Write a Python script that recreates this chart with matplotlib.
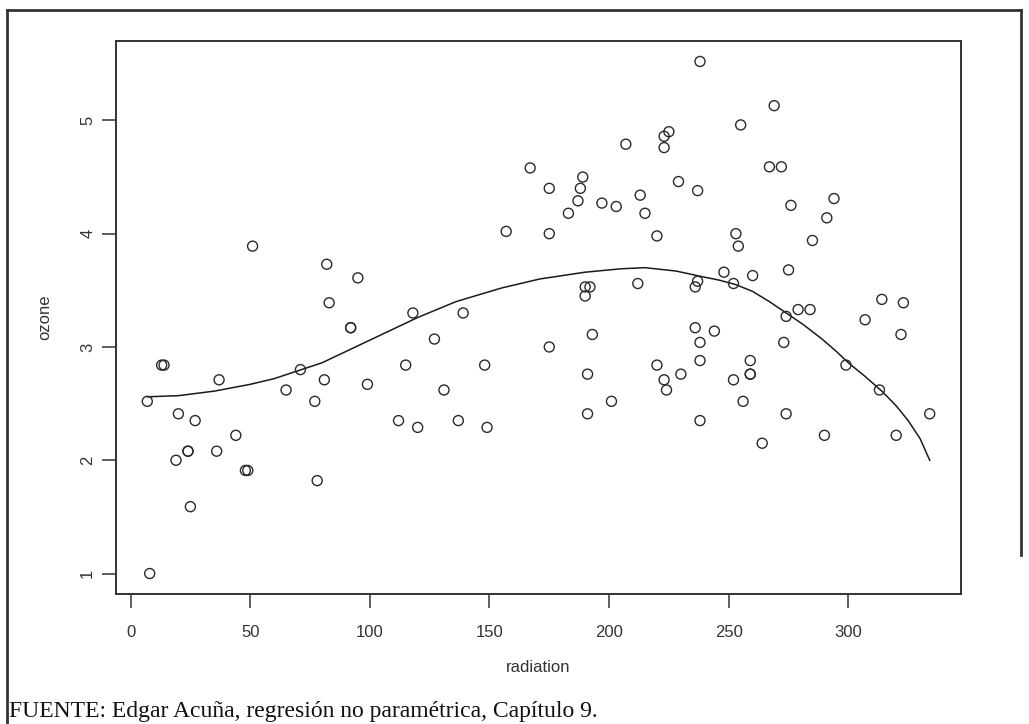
import matplotlib
matplotlib.use('Agg')
import matplotlib.pyplot as plt
from matplotlib.lines import Line2D

# radiation (langleys) and ozone (cube root)
radiation = [190, 118, 149, 313, 299, 99, 19, 256, 290, 274, 65, 334, 307, 78, 322, 44, 8, 320, 25, 92,
             13, 252, 223, 279, 127, 291, 323, 148, 191, 284, 37, 120, 137, 269, 248, 236, 175, 314, 276, 267,
             272, 175, 264, 175, 48, 260, 274, 285, 187, 220, 7, 294, 223, 81, 82, 213, 275, 253, 254, 83,
             24, 77, 255, 229, 207, 192, 273, 157, 71, 51, 115, 244, 190, 259, 36, 212, 238, 215, 203, 225,
             237, 188, 167, 197, 183, 189, 95, 92, 252, 220, 230, 259, 236, 259, 238, 24, 112, 237, 224, 27,
             238, 201, 238, 14, 139, 49, 20, 193, 191, 131, 223]
ozone = [3.45, 3.30, 2.29, 2.62, 2.84, 2.67, 2.00, 2.52, 2.22, 2.41, 2.62, 2.41, 3.24, 1.82, 3.11, 2.22, 1.00, 2.22, 1.59, 3.17,
         2.84, 3.56, 4.86, 3.33, 3.07, 4.14, 3.39, 2.84, 2.76, 3.33, 2.71, 2.29, 2.35, 5.13, 3.66, 3.17, 4.00, 3.42, 4.25, 4.59,
         4.59, 4.40, 2.15, 3.00, 1.91, 3.63, 3.27, 3.94, 4.29, 3.98, 2.52, 4.31, 4.76, 2.71, 3.73, 4.34, 3.68, 4.00, 3.89, 3.39,
         2.08, 2.52, 4.96, 4.46, 4.79, 3.53, 3.04, 4.02, 2.80, 3.89, 2.84, 3.14, 3.53, 2.76, 2.08, 3.56, 5.52, 4.18, 4.24, 4.90,
         4.38, 4.40, 4.58, 4.27, 4.18, 4.50, 3.61, 3.17, 2.71, 2.84, 2.76, 2.88, 3.53, 2.76, 3.04, 2.08, 2.35, 3.58, 2.62, 2.35,
         2.88, 2.52, 2.35, 2.84, 3.30, 1.91, 2.41, 3.11, 2.41, 2.62, 2.71]

# fitted nonparametric curve
curve_x = [7, 20, 35, 50, 60, 70, 80, 90, 102, 110, 120, 136, 155, 171, 190, 205, 215, 228, 239, 246,
           253, 260, 267, 274, 281, 289, 295, 300, 307, 314, 320, 325, 330, 334]
curve_y = [2.56, 2.57, 2.61, 2.67, 2.72, 2.79, 2.86, 2.96, 3.08, 3.16, 3.26, 3.40, 3.52, 3.60, 3.66, 3.69, 3.70, 3.67, 3.62, 3.59,
           3.55, 3.49, 3.40, 3.30, 3.20, 3.07, 2.96, 2.86, 2.74, 2.61, 2.48, 2.35, 2.19, 2.00]

x_ticks = [0, 50, 100, 150, 200, 250, 300]
y_ticks = [1, 2, 3, 4, 5]
x_label = 'radiation'
y_label = 'ozone'
caption = 'FUENTE: Edgar Acuña, regresión no paramétrica, Capítulo 9.'

W, H = 1029, 724
fig = plt.figure(figsize=(W / 100, H / 100), dpi=100)
fig.patch.set_facecolor('white')
sans = ['Liberation Sans', 'DejaVu Sans']

L, R, T, B = 116, 961, 41, 594
ax = fig.add_axes([L / W, 1 - B / H, (R - L) / W, (B - T) / H])

ink = '#2a2a2a'
ax.scatter(radiation, ozone, s=52, facecolors='none', edgecolors=ink, linewidths=1.0, zorder=3)
ax.plot(curve_x, curve_y, color='#1a1a1a', lw=1.1, zorder=2, solid_joinstyle='round')

xr = max(radiation) - min(radiation)
yr = max(ozone) - min(ozone)
ax.set_xlim(min(radiation) - 0.04 * xr, max(radiation) + 0.04 * xr)
ax.set_ylim(min(ozone) - 0.04 * yr, max(ozone) + 0.04 * yr)

ax.set_xticks(x_ticks)
ax.set_yticks(y_ticks)
ax.set_xticklabels([str(v) for v in x_ticks], family=sans)
ax.set_yticklabels([str(v) for v in y_ticks], rotation=90, va='center', family=sans)

for s in ax.spines.values():
    s.set_color('#333333')
    s.set_linewidth(1.4)

ax.tick_params(axis='both', direction='out', length=10, width=1.1, color='#333333',
               labelsize=12, labelcolor='#333333')
ax.tick_params(axis='x', pad=12)
ax.tick_params(axis='y', pad=5)

ax.set_xlabel(x_label, fontsize=12, color='#333333', family=sans)
ax.set_ylabel(y_label, fontsize=12, color='#333333', family=sans)
ax.xaxis.set_label_coords(0.5, -(668 - B) / (B - T))
ax.xaxis.label.set_va('center')
ax.yaxis.set_label_coords(-(L - 45) / (R - L), 0.5)
ax.yaxis.label.set_va('center')

# outer frame
fr = dict(color='#333333', lw=2.0, transform=fig.transFigure)
fig.add_artist(Line2D([7 / W, 7 / W], [1 - 10 / H, 0], **fr))
fig.add_artist(Line2D([7 / W, 1021 / W], [1 - 10 / H, 1 - 10 / H], **fr))
fig.add_artist(Line2D([1021 / W, 1021 / W], [1 - 10 / H, 1 - 555 / H], **fr))

fig.text(9 / W, 1 - 712 / H, caption, family='Liberation Serif', fontsize=17,
         color='#111111', ha='left', va='center')

fig.savefig('out.png', dpi=100)
